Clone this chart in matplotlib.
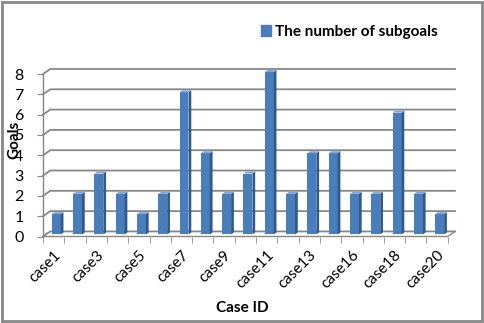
import matplotlib
matplotlib.use("Agg")
import matplotlib.pyplot as plt
from matplotlib.patches import Polygon, Rectangle, Patch

plt.rcParams['font.family'] = ['Lato', 'DejaVu Sans']

# data (case15 is not in the chart)
case_ids = ['case1', 'case2', 'case3', 'case4', 'case5', 'case6', 'case7', 'case8',
            'case9', 'case10', 'case11', 'case12', 'case13', 'case14', 'case16',
            'case17', 'case18', 'case19', 'case20']
subgoals = [1, 2, 3, 2, 1, 2, 7, 4, 2, 3, 8, 2, 4, 4, 2, 2, 6, 2, 1]
y_ticks = [0, 1, 2, 3, 4, 5, 6, 7, 8]

front = '#4A7EBB'
side = '#2F5A8E'
top = '#7FA6D6'
grid = '#878787'

n = len(case_ids)
dx, dy = 0.34, 0.25   # depth of the 3d box, in data units
bx, by = 0.12, 0.10   # bars sit a bit behind the front plane
w = 0.42              # bar front width
sw, sh = 0.13, 0.10   # bar side depth

fig = plt.figure(figsize=(4.85, 3.23), dpi=100)
ax = fig.add_axes([43/485, 1 - 236.5/323, (455 - 43)/485, (236.5 - 69)/323])
ax.set_xlim(-0.5, n - 0.5 + dx)
ax.set_ylim(0, y_ticks[-1] + dy)
for s in ax.spines.values():
    s.set_visible(False)

# back wall gridlines with a slanted start on the left wall
for k in y_ticks:
    ax.plot([-0.5, -0.5 + dx, n - 0.5 + dx], [k, k + dy, k + dy], color=grid, lw=1.3,
            clip_on=False, zorder=1)
# floor edges
ax.plot([-0.5, n - 0.5, n - 0.5 + dx], [0, 0, dy], color=grid, lw=1.0, clip_on=False, zorder=1)
# y axis line
ax.plot([-0.5, -0.5], [0, y_ticks[-1]], color=grid, lw=1.0, clip_on=False, zorder=1)

xs = list(range(n))
ax.bar([x + bx for x in xs], subgoals, width=w, bottom=by, color=front, zorder=3)
for x, v in zip(xs, subgoals):
    r = x + bx + w / 2
    l = x + bx - w / 2
    ax.add_patch(Polygon([(r, by), (r + sw, by + sh), (r + sw, by + v + sh), (r, by + v)],
                         closed=True, color=side, zorder=3, lw=0))
    ax.add_patch(Polygon([(l, by + v), (r, by + v), (r + sw, by + v + sh), (l + sw, by + v + sh)],
                         closed=True, color=top, zorder=3, lw=0))

ax.set_yticks(y_ticks)
ax.set_yticklabels([str(t) for t in y_ticks], fontsize=11.5)
ax.tick_params(axis='y', length=4, color=grid, pad=10)

ax.set_xticks(xs[::2])
ax.set_xticklabels(case_ids[::2], rotation=45, ha='right', rotation_mode='anchor', fontsize=11)
ax.set_xticks([x - 0.5 for x in range(n + 1)], minor=True)
ax.tick_params(axis='x', which='major', length=0, pad=8)
ax.tick_params(axis='x', which='minor', length=4, color=grid)

fig.text(242/485, 1 - 308/323, 'Case ID', ha='center', va='center', fontsize=11, fontweight='bold')
fig.text(14/485, 1 - 140/323, 'Goals', ha='center', va='center', rotation=90, fontsize=11,
         fontweight='bold')

leg = ax.legend(handles=[Patch(color=front, label='The number of subgoals')], loc='center left',
                bbox_to_anchor=(253/485, 1 - 32/323), bbox_transform=fig.transFigure,
                frameon=False, borderpad=0, handlelength=0.7, handleheight=0.7, handletextpad=0.25,
                prop={'weight': 'bold', 'size': 11})

fig.patches.append(Rectangle((0.004, 0.005), 0.99, 0.99, transform=fig.transFigure, fill=False,
                             edgecolor='#888888', lw=2))

fig.savefig('out.png', dpi=100)
